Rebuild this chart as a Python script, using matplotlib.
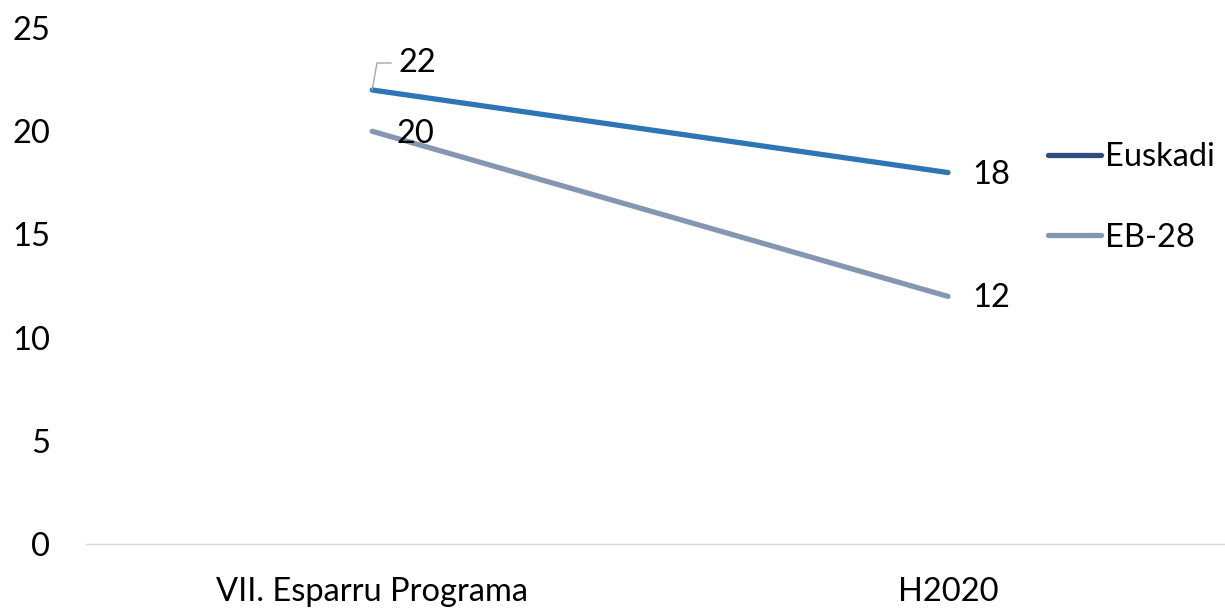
import matplotlib.pyplot as plt
from matplotlib.lines import Line2D

categories = ["VII. Esparru Programa", "H2020"]
euskadi = [22, 18]
eb28 = [20, 12]
series_names = ["Euskadi", "EB-28"]

line_colors = ["#2E75B6", "#8497B0"]
legend_colors = ["#2F4B80", "#8497B0"]

plt.rcParams['font.family'] = ['Lato', 'DejaVu Sans']
fs = 23.5

fig = plt.figure(figsize=(12.25, 6.1), dpi=100)
ax = fig.add_axes([0.0702, 0.108, 0.9298, 0.846])

x = list(range(len(categories)))
ax.plot(x, euskadi, color=line_colors[0], lw=3.8, solid_capstyle='round')
ax.plot(x, eb28, color=line_colors[1], lw=3.8, solid_capstyle='round')

# data labels
ax.annotate(str(euskadi[0]), xy=(x[0], euskadi[0]), xytext=(26, 27),
            textcoords='offset pixels', fontsize=fs, va='center', ha='left',
            arrowprops=dict(arrowstyle='-', color='#A6A6A6', lw=1,
                            shrinkA=3, shrinkB=0,
                            connectionstyle='angle,angleA=0,angleB=80,rad=0'))
ax.annotate(str(eb28[0]), xy=(x[0], eb28[0]), xytext=(24, -3),
            textcoords='offset pixels', fontsize=fs, va='center', ha='left')
ax.annotate(str(euskadi[1]), xy=(x[1], euskadi[1]), xytext=(24, -2),
            textcoords='offset pixels', fontsize=fs, va='center', ha='left')
ax.annotate(str(eb28[1]), xy=(x[1], eb28[1]), xytext=(24, -2),
            textcoords='offset pixels', fontsize=fs, va='center', ha='left')

ax.set_xlim(-0.497, 1.481)
ax.set_ylim(0, 25)
ax.set_yticks([0, 5, 10, 15, 20, 25])
ax.set_xticks(x)
ax.set_xticklabels(categories)
ax.tick_params(axis='both', length=0, labelsize=fs)
ax.tick_params(axis='y', pad=26)
ax.tick_params(axis='x', pad=24)

for s in ['top', 'right', 'left']:
    ax.spines[s].set_visible(False)
ax.spines['bottom'].set_color('#D9D9D9')
ax.spines['bottom'].set_linewidth(1)

handles = [Line2D([0], [0], color=c, lw=3.8, solid_capstyle='round') for c in legend_colors]
ax.legend(handles, series_names, loc='upper left', bbox_to_anchor=(0.8335, 0.804),
          frameon=False, fontsize=fs, handlelength=1.6, handletextpad=0.12,
          labelspacing=1.55, borderaxespad=0)

fig.savefig("out.png", dpi=100)
